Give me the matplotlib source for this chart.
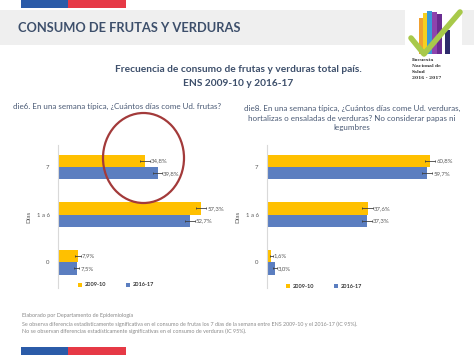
import numpy as np
import matplotlib.pyplot as plt
from matplotlib.patches import Rectangle, Ellipse

plt.rcParams['font.family'] = ['Lato', 'DejaVu Sans']

# data
categories = ['7', '1 a 6', '0']
years = ['2009-10', '2016-17']
frutas_0910 = [34.8, 57.3, 7.9]
frutas_1617 = [39.8, 52.7, 7.5]
verduras_0910 = [60.8, 37.6, 1.6]
verduras_1617 = [59.7, 37.3, 3.0]
# half-width of the confidence intervals (estimated from the whiskers)
frutas_err_0910 = [1.9, 2.0, 1.1]
frutas_err_1617 = [1.9, 2.0, 1.0]
verduras_err_0910 = [2.0, 2.0, 0.6]
verduras_err_1617 = [1.9, 1.9, 0.8]

YELLOW = '#FFC000'
BLUE = '#5B7EC0'
DARK = '#3D4F6B'
TXT = '#595959'

W, H = 474, 355
fig = plt.figure(figsize=(W / 100, H / 100), dpi=100)

# background axes in pixel coordinates for the slide decoration
bg = fig.add_axes([0, 0, 1, 1])
bg.set_xlim(0, W)
bg.set_ylim(H, 0)
bg.axis('off')

# top and bottom stripes
for y0 in (0, 347):
    bg.add_patch(Rectangle((21, y0), 47, 8, color='#2B5BA8', lw=0))
    bg.add_patch(Rectangle((68, y0), 58, 8, color='#E63946', lw=0))

# grey header band
bg.add_patch(Rectangle((0, 10), 405, 35, color='#EFEFEF', lw=0))
bg.add_patch(Rectangle((462, 10), 12, 35, color='#EFEFEF', lw=0))
bg.text(18, 28, 'CONSUMO DE FRUTAS Y VERDURAS', fontsize=9.3, fontweight='bold',
        color=DARK, va='center', ha='left')

# logo
logo_bars = [(419, 18, '#F0A030'), (423, 13, '#F5D020'), (427, 11, '#3A9AD9'),
             (432, 12, '#8E44AD'), (437, 14, '#6A2C91'), (445, 30, '#2E2A6B')]
for x0, top, c in logo_bars:
    bg.add_patch(Rectangle((x0, top), 5, 54 - top, color=c, lw=0))
bg.plot([411, 424, 460], [38, 54, 12], color='#A8C94A', lw=4, solid_capstyle='round',
        solid_joinstyle='round')
for i, s in enumerate(['Encuesta', 'Nacional de', 'Salud', '2016 - 2017']):
    bg.text(412, 60 + i * 6, s, fontsize=3.2, family='DejaVu Serif', fontweight='bold',
            color='#333333', va='center', ha='left')

# titles
bg.text(238, 70, 'Frecuencia de consumo de frutas y verduras total país.', fontsize=7.3,
        fontweight='bold', color=DARK, ha='center', va='center')
bg.text(238, 84, 'ENS 2009-10 y 2016-17', fontsize=7.3, fontweight='bold', color=DARK,
        ha='center', va='center')
bg.text(117, 106, 'die6. En una semana típica, ¿Cuántos días come Ud. frutas?', fontsize=5.8,
        color='#4A5A75', ha='center', va='center')
bg.text(352, 118, 'die8. En una semana típica, ¿Cuántos días come Ud. verduras,\n'
        'hortalizas o ensaladas de verduras? No considerar papas ni\nlegumbres',
        fontsize=5.8, color='#4A5A75', ha='center', va='center', linespacing=1.45)

# footer
bg.text(22, 315, 'Elaborado por Departamento de Epidemiología', fontsize=3.9,
        color='#8A8A8A', va='center')
bg.text(22, 328, 'Se observa diferencia estadísticamente significativa en el consumo de frutas '
        'los 7 días de la semana entre ENS 2009-10 y el 2016-17 (IC 95%).\n'
        'No se observan diferencias estadísticamente significativas en el consumo de '
        'verduras (IC 95%).', fontsize=3.9, color='#8A8A8A', va='center', linespacing=1.3)


def bar_chart(rect, xmax, v1, v2, e1, e2, legend_xy):
    ax = fig.add_axes(rect)
    pos = np.arange(len(categories))
    h = 0.263
    ax.barh(pos - h / 2, v1, height=h, color=YELLOW, label=years[0])
    ax.barh(pos + h / 2, v2, height=h, color=BLUE, label=years[1])
    for vals, errs, off in ((v1, e1, -h / 2), (v2, e2, h / 2)):
        ax.errorbar(vals, pos + off, xerr=errs, fmt='none', ecolor='#404040',
                    elinewidth=0.6, capsize=1, capthick=0.6)
        for v, e, p in zip(vals, errs, pos + off):
            ax.text(v + e + 0.4, p, f'{v:.1f}%'.replace('.', ','), fontsize=4.3,
                    color=TXT, va='center', ha='left')
    ax.set_xlim(0, xmax)
    ax.set_ylim(2.547, -0.463)
    ax.set_yticks(pos)
    ax.set_yticklabels(categories, fontsize=4.3, color=TXT)
    ax.tick_params(axis='y', length=0, pad=6)
    ax.set_xticks([])
    for s in ('top', 'right', 'bottom'):
        ax.spines[s].set_visible(False)
    ax.spines['left'].set_color('#D9D9D9')
    ax.spines['left'].set_linewidth(0.8)
    ax.set_ylabel('Días', fontsize=4.6, color=TXT, labelpad=4)
    ax.patch.set_alpha(0)
    leg = ax.legend(loc='center', bbox_to_anchor=legend_xy, bbox_transform=bg.transData,
                    ncol=2, frameon=False, fontsize=4, handlelength=0.7, handleheight=0.7,
                    columnspacing=3.5, handletextpad=0.6)
    for t in leg.get_texts():
        t.set_fontweight('bold')
        t.set_color('#333333')
    return ax


bar_chart([58 / W, 1 - 288 / H, 175 / W, 143 / H], 70, frutas_0910, frutas_1617,
          frutas_err_0910, frutas_err_1617, (116, 285))
bar_chart([267 / W, 1 - 288 / H, 201 / W, 143 / H], 75, verduras_0910, verduras_1617,
          verduras_err_0910, verduras_err_1617, (324, 286))

# red circle highlighting the fruit result, on top of the bars
circle_ax = fig.add_axes([0, 0, 1, 1])
circle_ax.set_xlim(0, W)
circle_ax.set_ylim(H, 0)
circle_ax.axis('off')
circle_ax.add_patch(Ellipse((143.5, 158), 81, 90, fill=False, edgecolor='#A33A3A', lw=1.6))

fig.savefig('out.png', dpi=100)
